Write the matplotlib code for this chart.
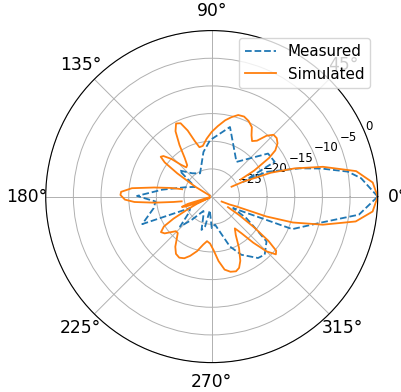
import numpy as np
import matplotlib
matplotlib.use("Agg")
import matplotlib.pyplot as plt

# Measured pattern (dB), corners of the dashed trace
meas_deg = [0, 7, 10.4, 14.4, 17.8, 24.4, 25.3, 29, 37.4, 54.5, 75.3, 91.7,
            100.5, 116.6, 130, 141, 150, 160.7, 172, 179.5, 185, 191.3,
            201.6, 208, 215, 223.5, 229.4, 240, 245.6, 253, 257.5, 262,
            270, 276.7, 290, 297, 307, 312.4, 320.7, 323.5, 328, 331.7,
            338, 347, 353, 360]
meas_db = [0, -2.8, -5, -9.6, -13.3, -19.2, -23.7, -17, -17.2, -22.3, -17,
           -19.8, -21.8, -25.3, -24.5, -22.5, -26.5, -24.9, -21, -16.5,
           -19.8, -19.3, -16.5, -25.6, -25, -22.1, -24.5, -27, -26.4,
           -23.7, -24.5, -27.5, -24.3, -24.9, -20.4, -18.2, -16.1, -15.8,
           -17.2, -19.9, -22.6, -25.6, -14.3, -9.4, -3.2, 0]

# Simulated pattern (dB); values under -30 fall outside the plot (nulls)
sim_deg = [0, 5, 10, 15, 18.8, 22, 25.3, 26.5, 27.5, 29.5, 30.5, 31.5, 34,
           36, 39, 42, 45, 48, 51, 54, 57, 60, 64, 68, 72, 76, 80, 85, 90,
           95, 100, 104, 107, 110, 113, 116, 119, 122, 125, 128, 131, 134,
           137, 140, 142, 144, 146, 149, 152, 155, 164, 166, 168, 171, 174,
           177, 179, 182, 184, 186, 188, 189, 190, 194, 195, 197, 199, 201,
           203, 205, 206, 208, 210, 212, 215, 218, 221, 224, 227, 230, 234,
           238, 242, 246, 250, 255, 260, 264, 268, 272, 276, 280, 284, 288,
           291, 294, 298, 302, 306, 309, 312, 315, 318, 320, 322, 324, 326,
           327, 328, 332, 333.4, 336, 338.2, 340, 342.3, 345.8, 350.2,
           354.7, 360]
sim_db = [0, -0.8, -3.5, -9.2, -14.2, -18.5, -23.7, -26, -40, -40, -24,
          -21, -17.5, -15.8, -14.7, -14.2, -14.2, -15.2, -17, -17.6, -16.8,
          -15.5, -14.8, -14.4, -14.5, -15.2, -16, -17.2, -18.3, -19.5,
          -20.7, -20.8, -19.5, -17.3, -15.6, -15.3, -16.5, -19, -21.5,
          -22.8, -23, -22, -20, -18.6, -18.3, -19.5, -22.5, -26.5, -29.6,
          -40, -40, -24.5, -22.5, -19.5, -15.5, -13.6, -13.5, -14.3, -16,
          -19.5, -23, -24.5, -40, -40, -29.6, -25.5, -24.3, -25, -27,
          -29.6, -27, -25, -22, -19.8, -18.8, -19.2, -20.2, -21, -21,
          -20.2, -18.8, -17.8, -17.5, -17.8, -18.6, -19.8, -21.2, -21.9,
          -21.5, -20.3, -18.3, -16.6, -16, -15.8, -16.2, -17.3, -19.5,
          -21.8, -22.9, -21.5, -18.8, -16, -14.4, -14.8, -17, -20.5, -24,
          -26.5, -40, -40, -28, -26.5, -25.2, -19.5, -14.6, -9.3, -3.6,
          -0.8, 0]

r_ticks = [-25, -20, -15, -10, -5, 0]

fig = plt.figure(figsize=(4.01, 3.92), dpi=100)
ax = fig.add_axes([0.114, 0.075, 0.828, 0.847], projection="polar")

ax.plot(np.deg2rad(meas_deg), meas_db, "--", color="tab:blue", lw=1.3,
        label="Measured")
ax.plot(np.deg2rad(sim_deg), sim_db, "-", color="tab:orange", lw=1.3,
        label="Simulated")

ax.set_rlim(-30, 0)
ax.set_rticks(r_ticks)
ax.tick_params(axis="x", labelsize=12.3)
ax.tick_params(axis="y", labelsize=8.5)
ax.grid(linewidth=0.7)
ax.legend(loc="upper right", fontsize=10.9)

fig.savefig("out.png", dpi=100)
